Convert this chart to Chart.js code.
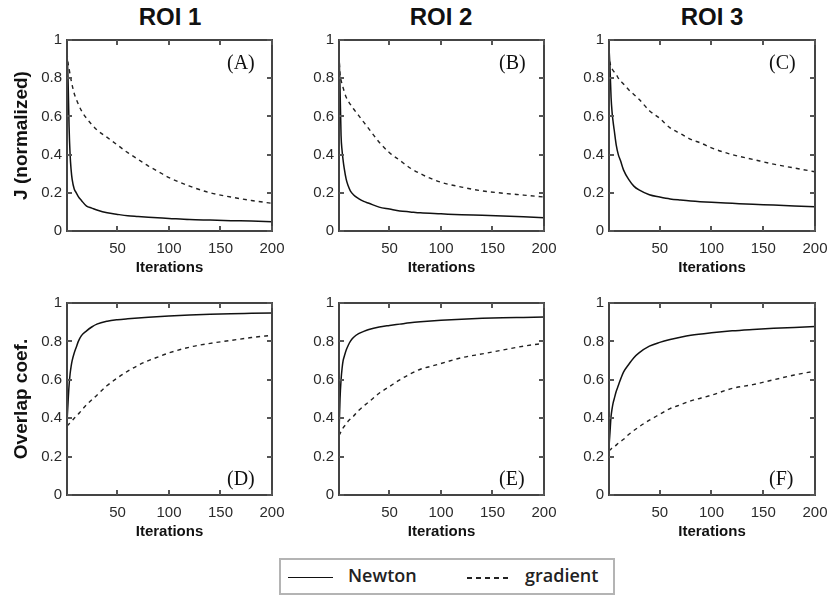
<!DOCTYPE html>
<html>
<head>
<meta charset="utf-8">
<script src="https://cdn.jsdelivr.net/npm/chart.js@4.4.1/dist/chart.umd.min.js"></script>
<style>
    body { margin: 0; background: #fff; width: 831px; height: 597px; position: relative; overflow: hidden; font-family: 'Liberation Sans', Arial, sans-serif; }
    canvas { position: absolute; }
    .roi { position: absolute; width: 200px; text-align: center; font-weight: bold; font-size: 24px; line-height: 24px; color: #111; }
    .tag { position: absolute; font-family: 'Liberation Serif', 'Times New Roman', serif; font-size: 20px; line-height: 20px; color: #111; }
    .box { position: absolute; border: 2px solid #444; pointer-events: none; }
    .tick { position: absolute; background: #555; pointer-events: none; }
    #legend { position: absolute; left: 279px; top: 558px; width: 332px; height: 33px; border: 2px solid #b4b4b4; font-family: 'Open Sans', sans-serif; font-weight: 600; font-size: 18px; color: #222; }
    #legend span { position: absolute; }
    .solid { left: 7px; top: 17px; width: 45px; border-top: 1.5px solid #111; }
    .dashed { left: 186px; top: 17px; width: 44px; height: 1.5px; background: repeating-linear-gradient(90deg, #222 0 5px, transparent 5px 9px); }
</style>
</head>
<body>

<div class="roi" style="left:70px; top:5px;">ROI 1</div>
<div class="roi" style="left:341px; top:5px;">ROI 2</div>
<div class="roi" style="left:612px; top:5px;">ROI 3</div>

<div id="legend">
    <span class="solid"></span><span style="left:67px; top:3px;">Newton</span>
    <span class="dashed"></span><span style="left:244px; top:3px;">gradient</span>
</div>

<script>
// iteration numbers where the curves were sampled
const iterNewton = [1, 2, 3, 4, 5, 6, 8, 10, 12, 15, 20, 25, 30, 40, 50, 60, 70, 80, 100, 120, 140, 160, 180, 200];
const iterGradient = [1, 2, 3, 5, 8, 10, 15, 20, 30, 40, 50, 60, 70, 80, 90, 100, 120, 140, 160, 180, 200];

const xTickValues = [50, 100, 150, 200];
const yTickValues = [0, 0.2, 0.4, 0.6, 0.8, 1];

// top row: J (normalized)
const jNewtonRoi1 = [0.93, 0.8, 0.55, 0.4, 0.32, 0.27, 0.22, 0.2, 0.18, 0.16, 0.13, 0.12, 0.11, 0.095, 0.087, 0.08, 0.076, 0.072, 0.066, 0.06, 0.057, 0.054, 0.052, 0.048];
const jGradientRoi1 = [0.93, 0.88, 0.85, 0.79, 0.72, 0.69, 0.63, 0.59, 0.53, 0.49, 0.45, 0.41, 0.375, 0.34, 0.31, 0.28, 0.235, 0.2, 0.178, 0.16, 0.145];
const jNewtonRoi2 = [0.93, 0.75, 0.5, 0.42, 0.37, 0.33, 0.27, 0.235, 0.21, 0.19, 0.17, 0.155, 0.145, 0.125, 0.115, 0.105, 0.1, 0.095, 0.09, 0.085, 0.082, 0.078, 0.074, 0.07];
const jGradientRoi2 = [0.92, 0.82, 0.79, 0.75, 0.7, 0.68, 0.64, 0.605, 0.535, 0.465, 0.41, 0.37, 0.33, 0.3, 0.275, 0.255, 0.23, 0.21, 0.198, 0.188, 0.178];
const jNewtonRoi3 = [0.96, 0.85, 0.7, 0.62, 0.57, 0.53, 0.45, 0.4, 0.37, 0.32, 0.27, 0.235, 0.215, 0.19, 0.178, 0.168, 0.162, 0.157, 0.15, 0.145, 0.14, 0.136, 0.131, 0.127];
const jGradientRoi3 = [0.93, 0.88, 0.86, 0.84, 0.82, 0.8, 0.77, 0.74, 0.69, 0.63, 0.59, 0.54, 0.51, 0.48, 0.46, 0.435, 0.4, 0.375, 0.35, 0.33, 0.31];

// bottom row: overlap coefficient
const ovNewtonRoi1 = [0.38, 0.48, 0.57, 0.63, 0.67, 0.7, 0.74, 0.77, 0.8, 0.83, 0.855, 0.875, 0.89, 0.905, 0.913, 0.918, 0.922, 0.926, 0.932, 0.937, 0.941, 0.944, 0.946, 0.948];
const ovGradientRoi1 = [0.36, 0.365, 0.37, 0.38, 0.4, 0.41, 0.44, 0.47, 0.52, 0.57, 0.61, 0.645, 0.675, 0.7, 0.72, 0.74, 0.77, 0.79, 0.805, 0.82, 0.832];
const ovNewtonRoi2 = [0.32, 0.5, 0.6, 0.66, 0.7, 0.72, 0.755, 0.78, 0.8, 0.82, 0.84, 0.852, 0.862, 0.875, 0.883, 0.89, 0.897, 0.902, 0.91, 0.916, 0.92, 0.923, 0.925, 0.927];
const ovGradientRoi2 = [0.31, 0.32, 0.33, 0.35, 0.37, 0.385, 0.41, 0.44, 0.485, 0.53, 0.565, 0.6, 0.63, 0.655, 0.67, 0.685, 0.715, 0.735, 0.755, 0.775, 0.79];
const ovNewtonRoi3 = [0.25, 0.33, 0.41, 0.45, 0.48, 0.5, 0.54, 0.57, 0.6, 0.64, 0.68, 0.715, 0.74, 0.775, 0.795, 0.81, 0.822, 0.832, 0.845, 0.855, 0.862, 0.868, 0.873, 0.878];
const ovGradientRoi3 = [0.23, 0.235, 0.24, 0.25, 0.26, 0.27, 0.29, 0.315, 0.355, 0.39, 0.42, 0.45, 0.47, 0.49, 0.505, 0.52, 0.555, 0.575, 0.6, 0.625, 0.645];

// layout of the six panels (plot-area corners in page pixels)
const panels = [
    { tag: '(A)', left: 67,  top: 40,  w: 205, h: 191, yTitle: 'J (normalized)', newton: jNewtonRoi1, gradient: jGradientRoi1, tagTop: true },
    { tag: '(B)', left: 339, top: 40,  w: 205, h: 191, yTitle: '', newton: jNewtonRoi2, gradient: jGradientRoi2, tagTop: true },
    { tag: '(C)', left: 609, top: 40,  w: 206, h: 191, yTitle: '', newton: jNewtonRoi3, gradient: jGradientRoi3, tagTop: true },
    { tag: '(D)', left: 67,  top: 303, w: 205, h: 192, yTitle: 'Overlap coef.', newton: ovNewtonRoi1, gradient: ovGradientRoi1, tagTop: false },
    { tag: '(E)', left: 339, top: 303, w: 205, h: 192, yTitle: '', newton: ovNewtonRoi2, gradient: ovGradientRoi2, tagTop: false },
    { tag: '(F)', left: 609, top: 303, w: 206, h: 192, yTitle: '', newton: ovNewtonRoi3, gradient: ovGradientRoi3, tagTop: false }
];

// the x tick labels ask for ~22px on the right (half of "200" plus tick padding)
const AXIS_W = 67, PAD_TOP = 20, PAD_RIGHT = 24, AXIS_H = 46, TICK_LEN = 5;

const axisFont = { family: "'Liberation Sans', Arial, sans-serif", size: 15 };

function toPoints(xs, ys) {
    return xs.map((v, i) => ({ x: v, y: ys[i] }));
}

function addDiv(cls, left, top, width, height) {
    const d = document.createElement('div');
    d.className = cls;
    d.style.left = left + 'px';
    d.style.top = top + 'px';
    d.style.width = width + 'px';
    d.style.height = height + 'px';
    document.body.appendChild(d);
}

// MATLAB-like frame: box round the plot area with inward tick marks,
// placed from the chart's own scales
function drawFrame(chart, offX, offY) {
    const a = chart.chartArea;
    const x = chart.scales.x, y = chart.scales.y;
    const l = offX + Math.round(a.left), r = offX + Math.round(a.right);
    const t = offY + Math.round(a.top), b = offY + Math.round(a.bottom);
    addDiv('box', l - 1, t - 1, r - l - 2, b - t - 2);
    xTickValues.forEach(v => {
        const px = offX + Math.round(x.getPixelForValue(v));
        addDiv('tick', px - 1, b - TICK_LEN, 2, TICK_LEN);
        addDiv('tick', px - 1, t, 2, TICK_LEN);
    });
    yTickValues.forEach(v => {
        const py = offY + Math.round(y.getPixelForValue(v));
        addDiv('tick', l, py - 1, TICK_LEN, 2);
        addDiv('tick', r - TICK_LEN, py - 1, TICK_LEN, 2);
    });
}

panels.forEach(p => {
    const offX = p.left - AXIS_W, offY = p.top - PAD_TOP;
    const canvas = document.createElement('canvas');
    canvas.width = AXIS_W + p.w + PAD_RIGHT;
    canvas.height = PAD_TOP + p.h + AXIS_H;
    canvas.style.left = offX + 'px';
    canvas.style.top = offY + 'px';
    document.body.appendChild(canvas);

    const tag = document.createElement('div');
    tag.className = 'tag';
    tag.textContent = p.tag;
    tag.style.left = (p.left + 160) + 'px';
    tag.style.top = (p.tagTop ? p.top + 12 : p.top + p.h - 27) + 'px';
    document.body.appendChild(tag);

    const chart = new Chart(canvas.getContext('2d'), {
        type: 'line',
        data: {
            datasets: [
                {
                    label: 'Newton',
                    data: toPoints(iterNewton, p.newton),
                    borderColor: '#111',
                    borderWidth: 1.5,
                    pointRadius: 0,
                    cubicInterpolationMode: 'monotone',
                    fill: false
                },
                {
                    label: 'gradient',
                    data: toPoints(iterGradient, p.gradient),
                    borderColor: '#222',
                    borderWidth: 1.4,
                    borderDash: [4, 4],
                    pointRadius: 0,
                    cubicInterpolationMode: 'monotone',
                    fill: false
                }
            ]
        },
        options: {
            responsive: false,
            maintainAspectRatio: false,
            animation: false,
            events: [],
            layout: { padding: { top: PAD_TOP, right: PAD_RIGHT, bottom: 0, left: 0 } },
            plugins: { legend: { display: false }, tooltip: { enabled: false } },
            scales: {
                x: {
                    type: 'linear',
                    min: 1,
                    max: 200,
                    grid: { display: false, drawTicks: false },
                    border: { display: false },
                    afterBuildTicks: axis => { axis.ticks = xTickValues.map(v => ({ value: v })); },
                    afterFit: axis => { axis.height = AXIS_H; },
                    ticks: {
                        padding: 9,
                        color: '#2a2a2a',
                        maxRotation: 0,
                        callback: v => String(v),
                        font: axisFont
                    },
                    title: {
                        display: true,
                        text: 'Iterations',
                        color: '#111',
                        padding: { top: 0, bottom: 0 },
                        font: { family: axisFont.family, size: 15, weight: 'bold' }
                    }
                },
                y: {
                    type: 'linear',
                    min: 0,
                    max: 1,
                    grid: { display: false, drawTicks: false },
                    border: { display: false },
                    afterBuildTicks: axis => { axis.ticks = yTickValues.map(v => ({ value: v })); },
                    afterFit: axis => { axis.width = AXIS_W; },
                    ticks: {
                        padding: 5,
                        color: '#2a2a2a',
                        callback: v => String(v),
                        font: axisFont
                    },
                    title: {
                        display: p.yTitle !== '',
                        text: p.yTitle,
                        color: '#111',
                        padding: { top: 10, bottom: 0 },
                        font: { family: axisFont.family, size: 19, weight: 'bold' }
                    }
                }
            }
        }
    });

    drawFrame(chart, offX, offY);
});
</script>
</body>
</html>
